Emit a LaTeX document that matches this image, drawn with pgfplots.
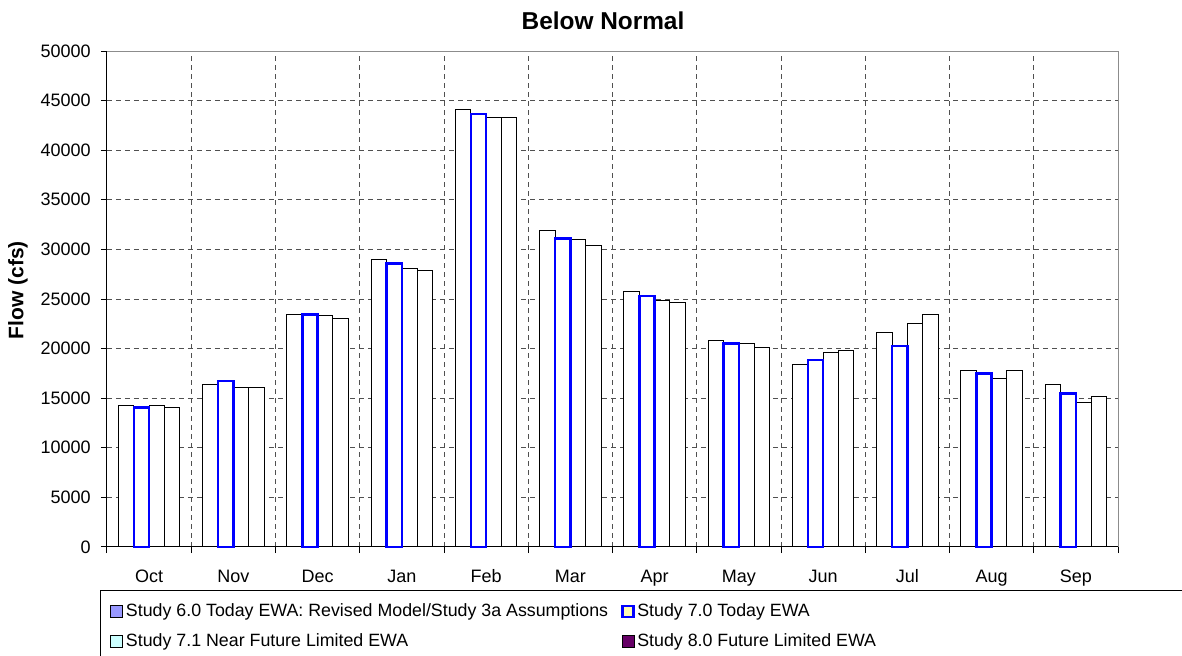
\documentclass[border=0pt]{standalone}
\usepackage{fontspec}
\setmainfont{Liberation Sans}
\usepackage{pgfplots}
\usepackage{pgfplotstable}
\pgfplotsset{compat=1.18}
\definecolor{sA}{RGB}{153,153,255}
\definecolor{sC}{RGB}{204,255,255}
\definecolor{sD}{RGB}{102,0,102}
\definecolor{gridc}{RGB}{80,80,80}
\definecolor{bordc}{RGB}{140,140,140}

\pgfplotstableread{
x s1 s2 s3 s4
0 14230 14070 14230 14070
1 16420 16720 16080 16080
2 23450 23450 23320 23020
3 29000 28570 28060 27890
4 44080 43640 43270 43270
5 31900 31120 30950 30380
6 25770 25300 24870 24660
7 20860 20530 20530 20090
8 18370 18840 19580 19790
9 21600 20260 22540 23450
10 17770 17500 16990 17770
11 16390 15480 14540 15140
}\flowdata

\begin{document}
\begin{tikzpicture}
\useasboundingbox (-80.25pt,-81.75pt) rectangle (806.25pt,410.25pt);
\begin{axis}[
  at={(0pt,0pt)}, anchor=south west,
  width=758.25pt, height=372pt, scale only axis,
  clip=false,
  xmin=-0.5, xmax=11.5, ymin=0, ymax=50000,
  ybar, bar width=0.1822,
  xtick={0,...,11},
  xticklabels={Oct,Nov,Dec,Jan,Feb,Mar,Apr,May,Jun,Jul,Aug,Sep},
  major x tick style={draw=none},
  minor xtick={-0.5,0.5,...,11.5},
  ytick={0,5000,...,50000},
  scaled y ticks=false,
  /pgf/number format/assume math mode=true,
  /pgf/number format/1000 sep={},
  tick align=outside, tick pos=left,
  major tick length=4.5pt, minor tick length=4.5pt,
  tick style={black, line width=0.75pt},
  xminorgrids, ymajorgrids,
  major grid style={gridc, line width=0.75pt, dash pattern=on 3.75pt off 3pt},
  minor grid style={gridc, line width=0.75pt, dash pattern=on 3.75pt off 3pt},
  axis line style={draw=none},
  ticklabel style={font=\fontsize{13.5pt}{16pt}\selectfont},
  yticklabel style={anchor=east, inner sep=0pt, xshift=-7.5pt},
  xticklabel style={anchor=base, inner sep=0pt, yshift=-22.1pt},
  title={Below Normal},
  title style={at={(axis description cs:0.4906,1.0444)}, anchor=center, inner sep=0pt,
    font=\bfseries\fontsize{18.3pt}{21pt}\selectfont},
  ylabel={Flow (cfs)},
  ylabel style={at={(axis description cs:-0.088,0.518)}, anchor=center, inner sep=0pt,
    font=\bfseries\fontsize{15.75pt}{18pt}\selectfont},
  legend columns=2,
  legend cell align=left,
  legend style={at={(axis description cs:0.003,-0.109)}, anchor=north west,
    draw=none, fill=none, inner xsep=0pt, inner ysep=0pt, row sep=7.25pt,
    font=\fontsize{13.35pt}{16pt}\selectfont,
    /tikz/every even column/.append style={column sep=8pt}},
]
\draw[bordc, line width=0.75pt] (rel axis cs:0,1) -- (rel axis cs:1,1) -- (rel axis cs:1,0);
\draw[black, line width=0.75pt] (rel axis cs:0,1) -- (rel axis cs:0,0) -- (rel axis cs:1,0);
\draw[black, line width=0.75pt] (rel axis cs:1.2,-0.0887) -- (rel axis cs:-0.0069,-0.0887) -- (rel axis cs:-0.0069,-0.5);
\addplot[fill=white, draw=black, line width=0.75pt, bar shift=-0.2733,
  legend image code/.code={\draw[black, line width=0.75pt, fill=sA] (0pt,-4.5pt) rectangle (9pt,4.5pt);}]
  table[x=x, y=s1] {\flowdata};
\addlegendentry{Study 6.0 Today EWA: Revised Model/Study 3a Assumptions}
\addplot[fill=white, draw=blue, line width=1.9pt, bar shift=-0.0911,
  legend image code/.code={\draw[blue, line width=1.9pt, fill=white!70!yellow] (0.5pt,-4pt) rectangle (8.5pt,4pt);}]
  table[x=x, y=s2] {\flowdata};
\addlegendentry{\makebox[600pt][l]{Study 7.0 Today EWA}}
\addplot[fill=white, draw=black, line width=0.75pt, bar shift=0.0911,
  legend image code/.code={\draw[black, line width=0.75pt, fill=sC] (0pt,-4.5pt) rectangle (9pt,4.5pt);}]
  table[x=x, y=s3] {\flowdata};
\addlegendentry{Study 7.1 Near Future Limited EWA}
\addplot[fill=white, draw=black, line width=0.75pt, bar shift=0.2733,
  legend image code/.code={\draw[black, line width=0.75pt, fill=sD] (0pt,-4.5pt) rectangle (9pt,4.5pt);}]
  table[x=x, y=s4] {\flowdata};
\addlegendentry{Study 8.0 Future Limited EWA}
% blue series redrawn on top so its outline is not covered by the neighbours
\addplot[forget plot, fill=none, draw=blue, line width=1.9pt, bar shift=-0.0911]
  table[x=x, y=s2] {\flowdata};
\end{axis}
\end{tikzpicture}
\end{document}
